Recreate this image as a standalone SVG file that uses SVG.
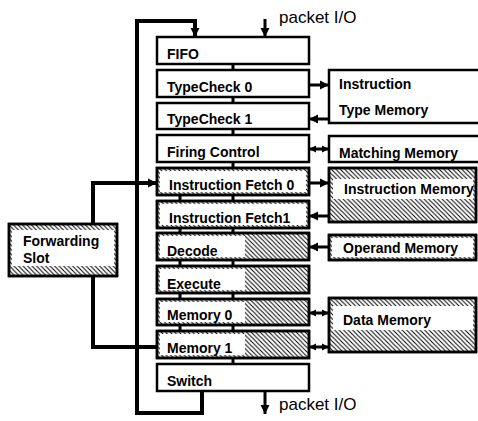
<svg xmlns="http://www.w3.org/2000/svg" width="478" height="421" viewBox="0 0 478 421">
<defs>
<pattern id="hatch" patternUnits="userSpaceOnUse" width="4.5" height="4.5">
<path d="M-1,-1 L5.5,5.5 M3.5,-1 L5.5,1 M-1,3.5 L1,5.5" stroke="#000" stroke-width="1"/>
</pattern>
<marker id="ah" markerUnits="userSpaceOnUse" markerWidth="10" markerHeight="10" refX="9" refY="5" orient="auto-start-reverse">
<path d="M0,0.5 L9,5 L0,9.5 z" fill="#000"/>
</marker>
<marker id="ah2" markerUnits="userSpaceOnUse" markerWidth="8" markerHeight="8" refX="7" refY="4" orient="auto-start-reverse">
<path d="M0,0.5 L7,4 L0,7.5 z" fill="#000"/>
</marker>
</defs>
<style>
.lbl{font-family:"Liberation Sans",Arial,sans-serif;font-weight:bold;font-size:14px;fill:#000}
.io{font-family:"Liberation Sans",Arial,sans-serif;font-size:17px;fill:#000}
.box{fill:#fff;stroke:#000;stroke-width:2.5}
.hb{fill:url(#hatch);stroke:#000;stroke-width:2.5}
.in{fill:#fff}
.ol{fill:none;stroke:#000;stroke-width:2.5}
.c{fill:none;stroke:#000;stroke-width:3}
.t{fill:none;stroke:#000;stroke-width:4}
</style>

<g id="connectors">
<path class="c" d="M233,64 V70 M233,97 V103 M233,129 V135 M233,162 V168 M233,195 V201 M233,228 V233 M233,260 V266 M233,293 V299 M233,325 V331 M233,358 V364"/>
<path class="c" d="M180,195 V201 M180,228 V233 M180,260 V266 M180,293 V299 M180,325 V331"/>
<polyline class="t" points="202,391 202,413 137,413 137,21 195,21 195,37" marker-end="url(#ah)"/>
<line class="c" x1="265" y1="19" x2="265" y2="37" marker-end="url(#ah)"/>
<line class="c" x1="265" y1="391" x2="265" y2="414" marker-end="url(#ah)"/>
<polyline class="t" points="93,224 93,183 157,183" marker-end="url(#ah)"/>
<polyline class="t" points="93,276 93,347 157,347"/>
<line class="c" x1="309" y1="85" x2="329" y2="85" marker-end="url(#ah)"/>
<line class="c" x1="329" y1="119" x2="309" y2="119" marker-end="url(#ah)"/>
<line class="c" x1="309" y1="149" x2="329" y2="149" marker-start="url(#ah2)" marker-end="url(#ah2)"/>
<line class="c" x1="309" y1="183" x2="329" y2="183" marker-end="url(#ah)"/>
<line class="c" x1="329" y1="216" x2="309" y2="216" marker-end="url(#ah)"/>
<line class="c" x1="329" y1="247" x2="309" y2="247" marker-end="url(#ah)"/>
<line class="c" x1="309" y1="313" x2="329" y2="313" marker-start="url(#ah2)" marker-end="url(#ah2)"/>
<line class="c" x1="309" y1="347" x2="329" y2="347" marker-start="url(#ah2)" marker-end="url(#ah2)"/>
</g>

<g id="fifo"><rect class="box" x="157" y="37" width="152" height="27"/><text class="lbl" x="167" y="59">FIFO</text></g>
<g id="typecheck0"><rect class="box" x="157" y="70" width="152" height="27"/><text class="lbl" x="167" y="92">TypeCheck 0</text></g>
<g id="typecheck1"><rect class="box" x="157" y="103" width="152" height="26"/><text class="lbl" x="167" y="124">TypeCheck 1</text></g>
<g id="firing-control"><rect class="box" x="157" y="135" width="152" height="27"/><text class="lbl" x="167" y="157">Firing Control</text></g>
<g id="instruction-fetch0"><rect class="hb" x="157" y="168" width="152" height="27"/><rect class="in" x="160" y="171" width="146" height="21"/><rect class="ol" x="157" y="168" width="152" height="27"/><text class="lbl" x="169" y="190">Instruction Fetch 0</text></g>
<g id="instruction-fetch1"><rect class="hb" x="157" y="201" width="152" height="27"/><rect class="in" x="160" y="204" width="146" height="21"/><rect class="ol" x="157" y="201" width="152" height="27"/><text class="lbl" x="169" y="223">Instruction Fetch1</text></g>
<g id="decode"><rect class="hb" x="157" y="233" width="152" height="27"/><rect class="in" x="160" y="236" width="85" height="21"/><rect class="ol" x="157" y="233" width="152" height="27"/><text class="lbl" x="167" y="256">Decode</text></g>
<g id="execute"><rect class="hb" x="157" y="266" width="152" height="27"/><rect class="in" x="160" y="269" width="85" height="21"/><rect class="ol" x="157" y="266" width="152" height="27"/><text class="lbl" x="167" y="289">Execute</text></g>
<g id="memory0"><rect class="hb" x="157" y="299" width="152" height="26"/><rect class="in" x="160" y="302" width="85" height="20"/><rect class="ol" x="157" y="299" width="152" height="26"/><text class="lbl" x="167" y="320">Memory 0</text></g>
<g id="memory1"><rect class="hb" x="157" y="331" width="152" height="27"/><rect class="in" x="160" y="334" width="85" height="21"/><rect class="ol" x="157" y="331" width="152" height="27"/><text class="lbl" x="167" y="353">Memory 1</text></g>
<g id="switch"><rect class="box" x="157" y="364" width="152" height="27"/><text class="lbl" x="167" y="386">Switch</text></g>

<g id="forwarding-slot"><rect class="hb" x="9" y="224" width="108" height="52"/><rect class="in" x="12" y="230" width="102" height="36"/><rect class="ol" x="9" y="224" width="108" height="52"/><text class="lbl" x="23" y="246">Forwarding</text><text class="lbl" x="23" y="263">Slot</text></g>

<g id="instruction-type-memory"><rect class="box" x="329" y="70" width="160" height="53"/><text class="lbl" x="339" y="89">Instruction</text><text class="lbl" x="339" y="115">Type Memory</text></g>
<g id="matching-memory"><rect class="box" x="329" y="136" width="160" height="26"/><text class="lbl" x="339" y="158">Matching Memory</text></g>
<g id="instruction-memory"><rect class="hb" x="329" y="168" width="147" height="54"/><rect class="in" x="333" y="179" width="140" height="20"/><rect class="ol" x="329" y="168" width="147" height="54"/><text class="lbl" x="344" y="194">Instruction Memory</text></g>
<g id="operand-memory"><rect class="hb" x="329" y="235" width="147" height="25"/><rect class="in" x="332" y="238" width="141" height="19"/><rect class="ol" x="329" y="235" width="147" height="25"/><text class="lbl" x="343" y="253">Operand Memory</text></g>
<g id="data-memory"><rect class="hb" x="329" y="298" width="147" height="54"/><rect class="in" x="333" y="306" width="140" height="24"/><rect class="ol" x="329" y="298" width="147" height="54"/><text class="lbl" x="343" y="325">Data Memory</text></g>

<g id="labels">
<text class="io" x="279" y="23">packet I/O</text>
<text class="io" x="279" y="410">packet I/O</text>
</g>
</svg>
